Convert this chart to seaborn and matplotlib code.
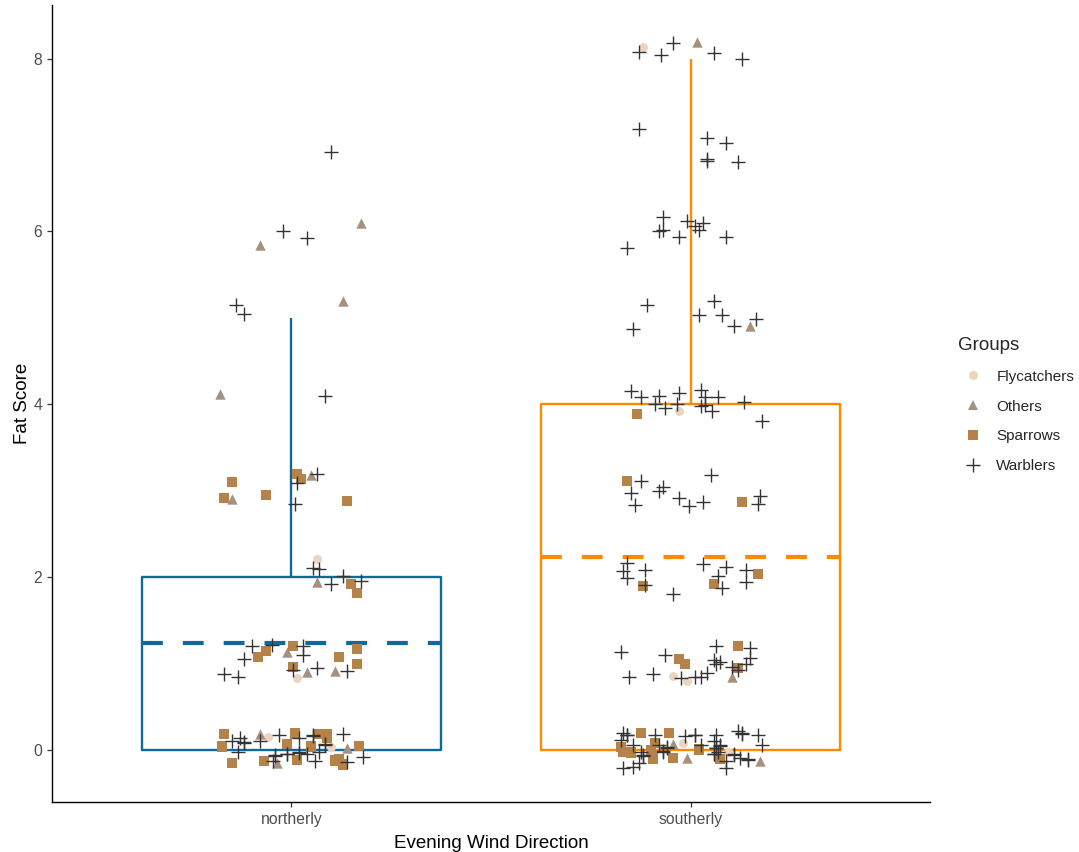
import numpy as np
import pandas as pd
import matplotlib
matplotlib.use("Agg")
import matplotlib.pyplot as plt
import seaborn as sns
from matplotlib.lines import Line2D

# ---------------- data ----------------
directions = ["northerly", "southerly"]
groups = ["Flycatchers", "Others", "Sparrows", "Warblers"]
group_code = {"F": "Flycatchers", "O": "Others", "S": "Sparrows", "W": "Warblers"}

# northerly birds: group, plotted (jittered) fat score, horizontal jitter
north_group = list("WOWWOWWOOWSSOSSSOWWWS" "FWWOWWWSS" "WWSSWSOWWWWSWFOWSSSOW"
                   "SSWWWWSOFWWSWWOSWSWSWWSWWSSSWFWOSWSSSWW" "WWSSWSWSWSWS")
north_y = [6.92, 6.10, 6.01, 5.93, 5.84, 5.15, 5.04, 5.19, 4.12, 4.10, 3.10, 2.92, 2.90, 2.95, 3.20, 3.14, 3.18, 3.19, 3.09, 2.85, 2.88,
           2.21, 2.11, 2.10, 1.95, 1.92, 2.01, 1.96, 1.92, 1.82,
           1.20, 1.06, 1.08, 1.15, 1.22, 1.21, 1.13, 1.20, 1.10, 0.88, 0.85, 0.96, 0.93, 0.83, 0.90, 0.95, 1.08, 1.17, 1.00, 0.91, 0.92,
           0.19, 0.05, 0.10, 0.14, 0.08, -0.02, -0.15, 0.19, 0.15, 0.11, 0.17, -0.12, -0.06, -0.12, -0.15, 0.07, -0.04, 0.20, 0.14, -0.11,
           -0.02, 0.17, 0.04, -0.04, -0.12, 0.19, 0.19, 0.14, 0.06, 0.04, 0.19, 0.02, 0.05, -0.08, -0.12, -0.17, -0.10, -0.14, -0.02,
           -0.05, -0.03, 0.19, 0.15, 0.16, -0.16, -0.07, 0.04, 0.09, 0.05, 0.07, -0.11]
north_dx = [0.10, 0.175, -0.02, 0.04, -0.08, -0.14, -0.12, 0.13, -0.18, 0.085, -0.15, -0.17, -0.15, -0.065, 0.015, 0.025, 0.05, 0.065, 0.015, 0.01, 0.14,
            0.065, 0.055, 0.07, 0.065, 0.10, 0.13, 0.175, 0.15, 0.165,
            -0.10, -0.12, -0.085, -0.065, -0.05, 0.005, -0.01, 0.03, 0.03, -0.17, -0.135, 0.005, 0.005, 0.015, 0.04, 0.065, 0.12, 0.165, 0.165, 0.11, 0.14,
            -0.17, -0.175, -0.15, -0.13, -0.12, -0.135, -0.15, -0.08, -0.06, -0.08, -0.03, -0.07, -0.04, -0.045, -0.035, -0.01, -0.01, 0.01, 0.02, 0.015,
            0.02, 0.055, 0.05, 0.04, 0.06, 0.07, 0.09, 0.09, 0.085, 0.10, 0.13, 0.14, 0.17, 0.18, 0.11, 0.13, 0.12, 0.14, 0.07,
            -0.01, 0.02, 0.01, 0.09, 0.055, 0.13, -0.04, -0.175, -0.12, 0.05, 0.085, 0.11]

# southerly birds
south_group = list("FWWWOWW" "WWWWWW" "WWWWWWWWWW" "WWWWWWOW" "WWWWWWWSFWWWWWWWW" "WSWWWWWWWWSWW"
                   "WWWWSWWWWWSWWWS" "WWWWSSFWFWWWWWWWSWWWSOWW"
                   "WWSWSWWWWWWW" "SSSWWWSSSWWWS" "OFOSWWWWWWSFWWWWO" "WWWWW" "WWSWWWSWWWSWWW")
south_y = [8.13, 8.08, 8.04, 8.18, 8.19, 8.06, 8.00,
           7.18, 7.08, 7.02, 6.84, 6.82, 6.80,
           6.17, 6.00, 6.02, 5.94, 6.12, 6.06, 6.02, 6.10, 5.94, 5.81,
           5.15, 4.87, 5.19, 5.03, 5.03, 4.91, 4.91, 4.99,
           4.16, 4.09, 4.10, 4.00, 3.96, 4.13, 4.00, 3.89, 3.92, 4.17, 4.09, 4.09, 3.98, 3.99, 3.92, 4.03, 3.81,
           3.18, 3.11, 3.11, 2.98, 2.84, 3.00, 3.04, 2.92, 2.83, 2.87, 2.87, 2.94, 2.85,
           2.17, 2.07, 1.99, 2.08, 1.90, 1.91, 1.81, 2.15, 2.12, 2.01, 1.92, 1.87, 2.08, 1.95, 2.04,
           1.13, 0.85, 0.88, 1.10, 1.05, 1.00, 0.86, 0.83, 0.80, 0.85, 0.85, 0.89, 1.20, 1.04, 1.02, 1.00, 1.20, 1.18, 1.07, 1.00, 0.95, 0.85, 0.96, 0.93,
           0.20, 0.18, 0.20, 0.18, 0.20, 0.16, 0.18, 0.18, 0.22, 0.20, 0.18, 0.06,
           0.04, -0.02, -0.03, 0.06, -0.02, -0.07, 0.00, 0.08, -0.10, 0.06, -0.02, 0.02, -0.09,
           0.07, 0.08, -0.09, 0.00, 0.06, 0.10, 0.02, -0.05, -0.02, 0.06, -0.10, -0.02, -0.13, -0.05, -0.09, -0.11, -0.13,
           -0.21, -0.19, -0.15, -0.21, 0.12,
           0.04, 0.03, -0.02, -0.06, -0.04, -0.06, -0.09, -0.01, 0.19, 0.17, 0.01, 0.05, -0.10, 0.17]
south_dx = [-0.12, -0.13, -0.075, -0.045, 0.015, 0.06, 0.13,
            -0.13, 0.04, 0.09, 0.04, 0.04, 0.12,
            -0.07, -0.08, -0.07, -0.03, -0.01, 0.01, 0.02, 0.03, 0.09, -0.16,
            -0.11, -0.145, 0.06, 0.02, 0.08, 0.11, 0.15, 0.165,
            -0.15, -0.125, -0.08, -0.09, -0.065, -0.03, -0.035, -0.135, -0.03, 0.025, 0.035, 0.07, 0.025, 0.035, 0.055, 0.135, 0.18,
            0.05, -0.16, -0.125, -0.15, -0.14, -0.08, -0.07, -0.03, -0.005, 0.03, 0.13, 0.175, 0.17,
            -0.16, -0.17, -0.16, -0.115, -0.12, -0.115, -0.045, 0.03, 0.09, 0.07, 0.06, 0.08, 0.14, 0.14, 0.17,
            -0.175, -0.155, -0.095, -0.065, -0.03, -0.015, -0.045, -0.025, -0.01, 0.01, 0.025, 0.04, 0.065, 0.06, 0.075, 0.065, 0.12, 0.15, 0.15, 0.14, 0.12, 0.105, 0.105, 0.12,
            -0.17, -0.16, -0.125, -0.09, -0.055, -0.015, 0.01, 0.065, 0.12, 0.13, 0.17, 0.18,
            -0.175, -0.17, -0.15, -0.145, -0.125, -0.12, -0.10, -0.09, -0.095, -0.08, -0.07, -0.06, -0.045,
            -0.045, -0.02, -0.01, 0.02, 0.025, 0.06, 0.065, 0.06, 0.07, 0.075, 0.075, 0.095, 0.09, 0.11, 0.125, 0.145, 0.175,
            -0.17, -0.145, -0.13, 0.09, -0.175,
            -0.06, 0.065, -0.15, -0.12, 0.06, 0.11, -0.095, -0.07, 0.13, -0.16, 0.02, 0.075, 0.145, 0.01]

# ---------------- styling ----------------
box_colors = {"northerly": "#0E6A9E", "southerly": "#FF8A00"}
point_style = {
    "Flycatchers": dict(marker="o", s=42, color="#EBD5C0", linewidths=0),
    "Others": dict(marker="^", s=56, color="#A6907F", linewidths=0),
    "Sparrows": dict(marker="s", s=48, color="#B5834A", linewidths=0),
    "Warblers": dict(marker="+", s=115, color="#333333", linewidths=1.0),
}

df = pd.concat([
    pd.DataFrame({"wind": "northerly", "group": [group_code[c] for c in north_group],
                  "fat_plot": north_y, "dx": north_dx}),
    pd.DataFrame({"wind": "southerly", "group": [group_code[c] for c in south_group],
                  "fat_plot": south_y, "dx": south_dx}),
], ignore_index=True)
df["fat"] = df["fat_plot"].round()

sns.set_theme(style="ticks")
plt.rcParams["font.family"] = ["Liberation Sans", "DejaVu Sans"]

fig = plt.figure(figsize=(10.79, 8.52), dpi=100)
ax = fig.add_axes([52 / 1079, 1 - 802 / 852, (930 - 52) / 1079, (802 - 5) / 852])

sns.boxplot(data=df, x="wind", y="fat", hue="wind", order=directions, hue_order=directions,
            palette=box_colors, fill=False, width=0.75, whis=1.5, showfliers=False,
            showcaps=False, linewidth=1.7, legend=False, ax=ax,
            medianprops={"linewidth": 0, "alpha": 0})

means = df.groupby("wind")["fat"].mean()
for i, d in enumerate(directions):
    ax.plot([i - 0.375, i + 0.375], [means[d], means[d]], color=box_colors[d],
            lw=3.0, dashes=(5.0, 4.8), zorder=3)

xcode = df["wind"].map({d: i for i, d in enumerate(directions)})
for g in groups:
    m = df["group"] == g
    st = point_style[g]
    ax.scatter(xcode[m] + df.loc[m, "dx"], df.loc[m, "fat_plot"], marker=st["marker"], s=st["s"],
               c=st["color"], linewidths=st["linewidths"], zorder=4)

ax.set_xlim(-0.6, 1.6)
ax.set_ylim(-0.6, 8.62)
ax.set_yticks([0, 2, 4, 6, 8])
ax.set_xlabel("Evening Wind Direction", fontsize=13.5, color="black", labelpad=6)
ax.set_ylabel("Fat Score", fontsize=13.5, color="black", labelpad=2)
ax.tick_params(axis="both", labelsize=11.3, labelcolor="#4D4D4D", color="#333333",
               length=3.5, width=0.9, pad=3.5)
for side in ["top", "right"]:
    ax.spines[side].set_visible(False)
for side in ["left", "bottom"]:
    ax.spines[side].set_color("black")
    ax.spines[side].set_linewidth(1.0)

handles = []
for g in groups:
    st = point_style[g]
    if st["marker"] == "+":
        h = Line2D([], [], linestyle="none", marker="+", markersize=10.5, markeredgewidth=1.0,
                   color=st["color"])
    else:
        h = Line2D([], [], linestyle="none", marker=st["marker"], markersize=np.sqrt(st["s"]),
                   markerfacecolor=st["color"], markeredgewidth=0)
    handles.append(h)
leg = ax.legend(handles, groups, title="Groups", loc="upper left",
                bbox_to_anchor=(952 / 1079, 1 - 331 / 852), bbox_transform=fig.transFigure,
                frameon=False, fontsize=11, title_fontsize=13.5, labelspacing=1.03,
                handletextpad=0.5, borderaxespad=0)
leg._legend_box.align = "left"

fig.savefig("out.png", dpi=100)
